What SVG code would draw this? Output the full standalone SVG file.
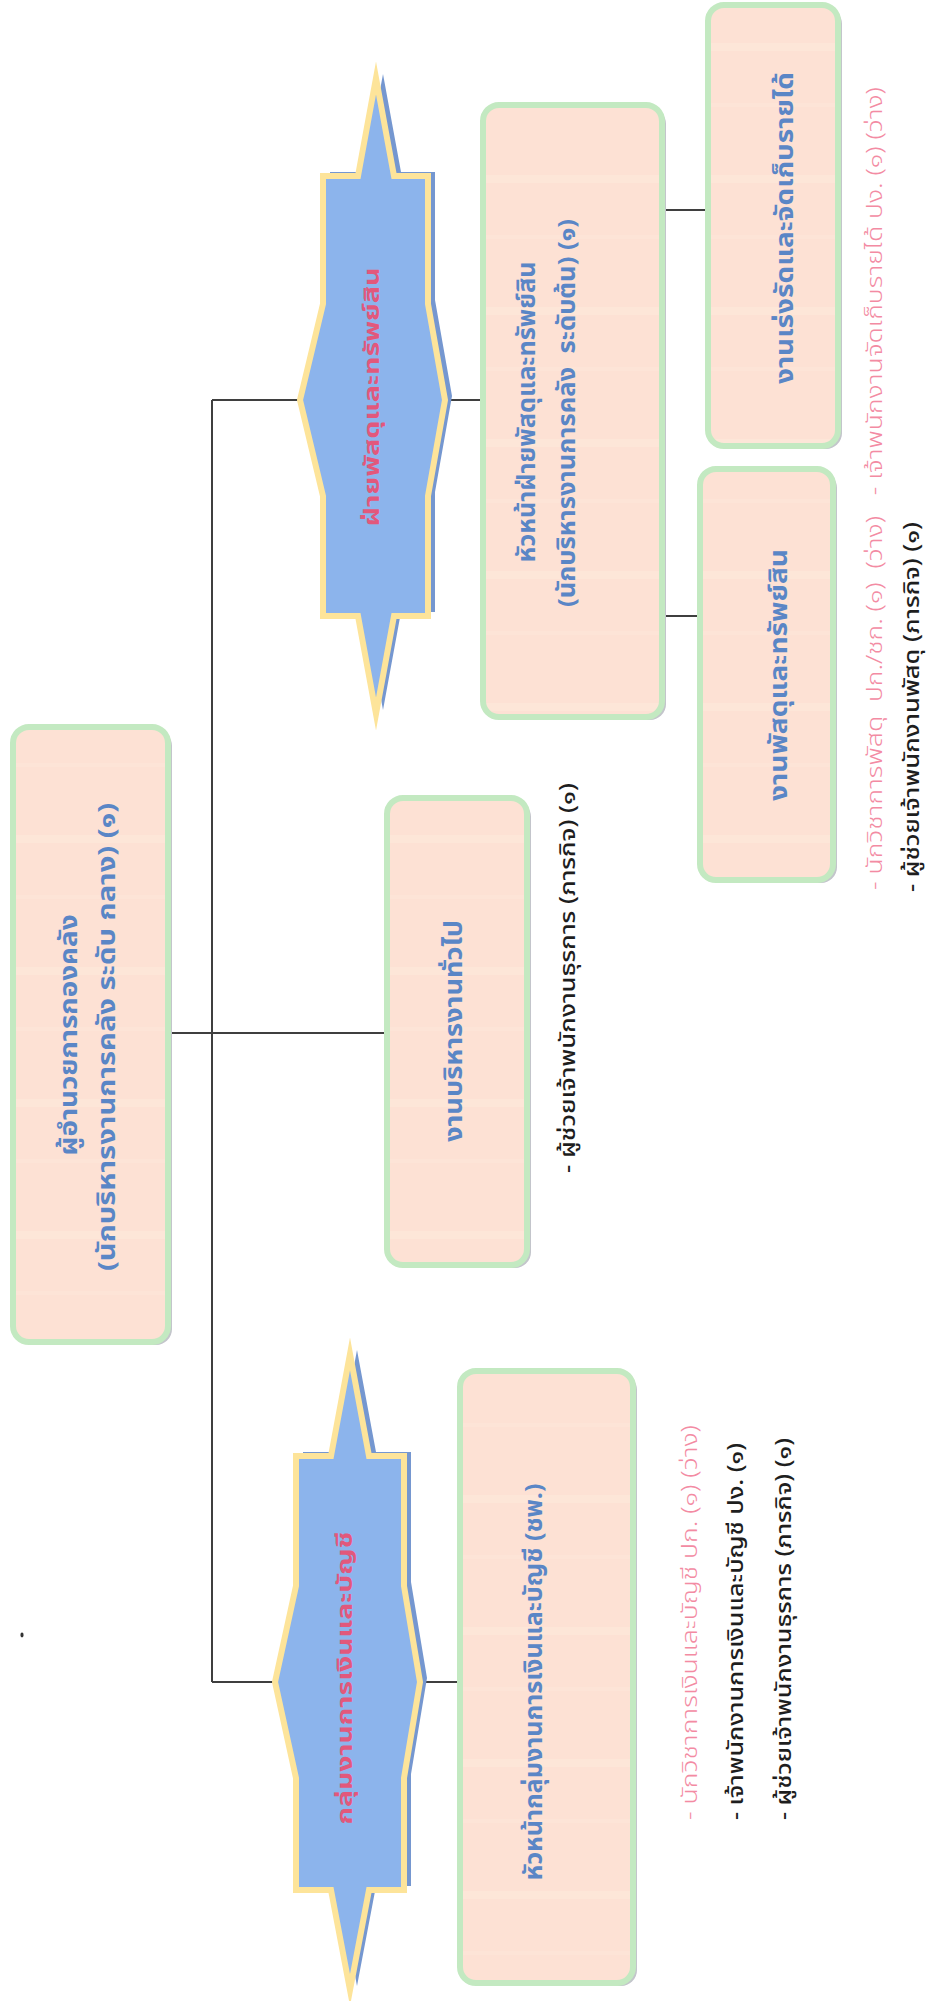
<svg xmlns="http://www.w3.org/2000/svg" width="936" height="2001" viewBox="0 0 936 2001">
<defs>
<pattern id="stripes" patternUnits="userSpaceOnUse" x="0" y="43" width="936" height="132">
<rect width="936" height="132" fill="#fde1d4"/>
<rect y="0" width="936" height="8" fill="#fde6d8"/>
<rect y="60" width="936" height="4" fill="#fde4d7"/>
</pattern>
</defs>
<style>
text{font-family:"Noto Sans Thai","Noto Sans","DejaVu Sans",sans-serif;dominant-baseline:central}
.bt{fill:#5a86c6;font-weight:bold;font-size:24px;text-anchor:middle}
.dt{fill:#e2587c;font-weight:bold;font-size:22px;text-anchor:middle}
.an{fill:#1e1e1e;font-size:21px;font-weight:500;text-anchor:start}
.pk{fill:#f38ba3;font-size:21px;font-weight:300;text-anchor:start;white-space:pre}
.box{fill:url(#stripes);stroke:#c3e9c1;stroke-width:6}
.sh{fill:#c3c5cb}
.dm{fill:#8cb4ec;stroke:#fde49a;stroke-width:6;stroke-linejoin:miter;stroke-miterlimit:10}
.ds{fill:#7597d0}
</style>
<g id="connectors" stroke="#3f3f3f" stroke-width="2" fill="none">
<path d="M212 400V1682"/>
<path d="M212 400H300"/>
<path d="M445 400H483"/>
<path d="M168 1033H387"/>
<path d="M212 1682H275"/>
<path d="M420 1682H460"/>
<path d="M662 210H708"/>
<path d="M662 616H700"/>
</g>
<g id="n-director">
<rect class="sh" x="17" y="730" width="155" height="615" rx="16"/>
<rect class="box" x="13" y="727" width="155" height="615" rx="16"/>
<text class="bt" transform="translate(70,1035) rotate(-90)" textLength="241" lengthAdjust="spacingAndGlyphs">ผู้อำนวยการกองคลัง</text>
<text class="bt" transform="translate(108,1037) rotate(-90)" textLength="468" lengthAdjust="spacingAndGlyphs">(นักบริหารงานการคลัง ระดับ กลาง) (๑)</text>
</g>
<g id="n-general">
<rect class="sh" x="391" y="801" width="140" height="467" rx="16"/>
<rect class="box" x="387" y="798" width="140" height="467" rx="16"/>
<text class="bt" transform="translate(455,1031) rotate(-90)" textLength="222" lengthAdjust="spacingAndGlyphs">งานบริหารงานทั่วไป</text>
<text class="an" transform="translate(568,1173) rotate(-90)" textLength="390" lengthAdjust="spacingAndGlyphs">- ผู้ช่วยเจ้าพนักงานธุรการ (ภารกิจ) (๑)</text>
</g>
<g id="n-supply-div">
<polygon class="ds" transform="translate(7,-4)" points="376,78 394,176 428,176 428,304 445,400 428,496 428,616 394,616 376,714 358,616 323,616 323,496 300,400 323,304 323,176 358,176"/>
<polygon class="dm" points="376,78 394,176 428,176 428,304 445,400 428,496 428,616 394,616 376,714 358,616 323,616 323,496 300,400 323,304 323,176 358,176"/>
<text class="dt" transform="translate(372,397) rotate(-90)" textLength="259" lengthAdjust="spacingAndGlyphs">ฝ่ายพัสดุและทรัพย์สิน</text>
</g>
<g id="n-supply-head">
<rect class="sh" x="487" y="108" width="179" height="612" rx="16"/>
<rect class="box" x="483" y="105" width="179" height="612" rx="16"/>
<text class="bt" transform="translate(528,412) rotate(-90)" textLength="301" lengthAdjust="spacingAndGlyphs">หัวหน้าฝ่ายพัสดุและทรัพย์สิน</text>
<text class="bt" transform="translate(568,413) rotate(-90)" textLength="388" lengthAdjust="spacingAndGlyphs" style="white-space:pre">(นักบริหารงานการคลัง  ระดับต้น) (๑)</text>
</g>
<g id="n-revenue">
<rect class="sh" x="712" y="8" width="130" height="441" rx="16"/>
<rect class="box" x="708" y="5" width="130" height="441" rx="16"/>
<text class="bt" transform="translate(786,228) rotate(-90)" textLength="312" lengthAdjust="spacingAndGlyphs">งานเร่งรัดและจัดเก็บรายได้</text>
</g>
<g id="n-supply">
<rect class="sh" x="704" y="472" width="133" height="411" rx="16"/>
<rect class="box" x="700" y="469" width="133" height="411" rx="16"/>
<text class="bt" transform="translate(780,675) rotate(-90)" textLength="252" lengthAdjust="spacingAndGlyphs">งานพัสดุและทรัพย์สิน</text>
</g>
<g id="supply-staff">
<text class="pk" transform="translate(875,890) rotate(-90)" textLength="803" lengthAdjust="spacingAndGlyphs">- นักวิชาการพัสดุ  ปก./ชก. (๑)  (ว่าง)   - เจ้าพนักงานจัดเก็บรายได้ ปง. (๑) (ว่าง)</text>
<text class="an" transform="translate(912,892) rotate(-90)" textLength="370" lengthAdjust="spacingAndGlyphs">- ผู้ช่วยเจ้าพนักงานพัสดุ (ภารกิจ) (๑)</text>
</g>
<g id="n-finance-group">
<polygon class="ds" transform="translate(7,-4)" points="350,1354 369,1456 404,1456 404,1586 420,1682 404,1778 404,1890 369,1890 350,1990 331,1890 296,1890 296,1778 275,1682 296,1586 296,1456 331,1456"/>
<polygon class="dm" points="350,1354 369,1456 404,1456 404,1586 420,1682 404,1778 404,1890 369,1890 350,1990 331,1890 296,1890 296,1778 275,1682 296,1586 296,1456 331,1456"/>
<text class="dt" transform="translate(345,1678) rotate(-90)" textLength="293" lengthAdjust="spacingAndGlyphs">กลุ่มงานการเงินและบัญชี</text>
</g>
<g id="n-finance-head">
<rect class="sh" x="464" y="1374" width="173" height="612" rx="16"/>
<rect class="box" x="460" y="1371" width="173" height="612" rx="16"/>
<text class="bt" transform="translate(535,1682) rotate(-90)" textLength="397" lengthAdjust="spacingAndGlyphs">หัวหน้ากลุ่มงานการเงินและบัญชี (ชพ.)</text>
</g>
<g id="finance-staff">
<text class="pk" transform="translate(690,1820) rotate(-90)" textLength="395" lengthAdjust="spacingAndGlyphs">- นักวิชาการเงินและบัญชี ปก. (๑) (ว่าง)</text>
<text class="an" transform="translate(736,1820) rotate(-90)" textLength="377" lengthAdjust="spacingAndGlyphs">- เจ้าพนักงานการเงินและบัญชี ปง. (๑)</text>
<text class="an" transform="translate(784,1820) rotate(-90)" textLength="382" lengthAdjust="spacingAndGlyphs">- ผู้ช่วยเจ้าพนักงานธุรการ (ภารกิจ) (๑)</text>
</g>
<ellipse cx="22" cy="1635" rx="1.6" ry="2.4" fill="#333"/>
</svg>
